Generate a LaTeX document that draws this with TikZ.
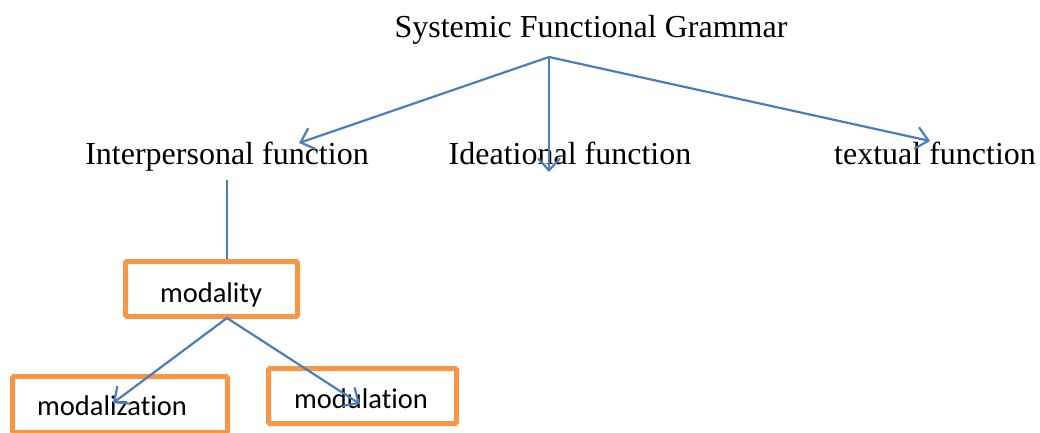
\documentclass[tikz,border=0pt]{standalone}
\usepackage{fontspec}
\setmainfont{Liberation Serif}
\newfontfamily\calfont[Ligatures=NoCommon]{Carlito}
\usetikzlibrary{arrows.meta}
\begin{document}
\begin{tikzpicture}[x=1pt,y=-1pt,
  serif/.style={font=\fontsize{32}{36}\selectfont, inner sep=0pt, anchor=base},
  obox/.style={draw={rgb,255:red,247;green,150;blue,70}, line width=5pt, rounded corners=1.5pt, inner sep=0pt},
  sans/.style={font=\calfont\fontsize{28.5}{32}\selectfont, inner sep=0pt, anchor=base},
  conn/.style={draw={rgb,255:red,74;green,126;blue,187}, line width=2.2pt,
    -{Straight Barb[length=12pt,width=22pt,line width=2.2pt]}},
  plain/.style={draw={rgb,255:red,74;green,126;blue,187}, line width=2.2pt}]
\useasboundingbox (0,0) rectangle (1040,432);
\node[serif] (sfg) at (591,37) {Systemic Functional Grammar};
\node[serif] (ip) at (227,164) {Interpersonal function};
\node[serif] (id) at (570,164) {Ideational function};
\node[serif] (tx) at (935,164) {textual function};
\coordinate (top) at (549,57);
\coordinate (ipend) at (299,143);
\coordinate (idend) at (549,172);
\coordinate (txend) at (930,141);
\draw[conn] (top) -- (ipend);
\draw[conn] (top) -- (idend);
\draw[conn] (top) -- (txend);
\node[obox, minimum width=172pt, minimum height=55pt] (mod) at (211.5,289) {};
\node[sans] (modt) at (211,302) {modality};
\coordinate (ipbot) at (227,180);
\draw[plain] (ipbot) -- (mod.north -| ipbot);
\node[obox, minimum width=215pt, minimum height=56pt] (mz) at (120,404.5) {};
\node[sans] (mzt) at (112,415) {modalization};
\node[obox, minimum width=188pt, minimum height=55pt] (mu) at (362.5,396) {};
\node[sans] (mut) at (361,408) {modulation};
\coordinate (msrc) at (227,318);
\coordinate (mzend) at (113,403);
\coordinate (muend) at (360,404);
\draw[conn] (msrc) -- (mzend);
\draw[conn] (msrc) -- (muend);
\end{tikzpicture}
\end{document}
